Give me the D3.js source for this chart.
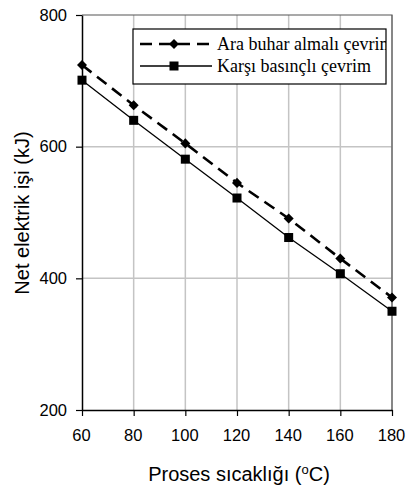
<!DOCTYPE html>
<html><head><meta charset="utf-8">
<script src="https://cdn.jsdelivr.net/npm/d3@7"></script>
<style>body{margin:0;background:#fff}</style>
</head><body>
<svg id="c" width="408" height="493"></svg>
<script>
const temps = [60, 80, 100, 120, 140, 160, 180];
const araBuhar = [724, 663, 605, 545, 491, 430, 371];
const karsiBasinc = [701, 640, 581, 522, 462, 407, 350];
const xTicks = [60, 80, 100, 120, 140, 160, 180];
const yTicks = [200, 400, 600, 800];
const seriesNames = ["Ara buhar almalı çevrim", "Karşı basınçlı çevrim"];

const svg = d3.select("#c");
const L = 82, R = 392, T = 15, B = 410;
const x = d3.scaleLinear().domain([60, 180]).range([L, R]);
const y = d3.scaleLinear().domain([200, 800]).range([B, T]);

// grid
svg.append("g").selectAll("line").data(xTicks.slice(1)).join("line")
  .attr("x1", d => x(d)).attr("x2", d => x(d)).attr("y1", T).attr("y2", B)
  .attr("stroke", "#c4c4c4").attr("stroke-width", 1.5);
svg.append("g").selectAll("line").data([400, 600]).join("line")
  .attr("x1", L).attr("x2", R).attr("y1", d => y(d)).attr("y2", d => y(d))
  .attr("stroke", "#c4c4c4").attr("stroke-width", 1.5);
// top/right frame
svg.append("path").attr("d", `M${L},${T}H${R}V${B}`).attr("fill", "none")
  .attr("stroke", "#555").attr("stroke-width", 1.2);

// axes
const font = "'Liberation Sans', Arial, sans-serif";
const xAxis = svg.append("g").attr("transform", `translate(0,${B})`)
  .call(d3.axisBottom(x).tickValues(xTicks).tickSize(6).tickSizeOuter(0).tickPadding(13));
const yAxis = svg.append("g").attr("transform", `translate(${L},0)`)
  .call(d3.axisLeft(y).tickValues(yTicks).tickSize(6).tickSizeOuter(0).tickPadding(9));
[xAxis, yAxis].forEach(a => {
  a.select(".domain").attr("stroke", "#000").attr("stroke-width", 1.5);
  a.selectAll(".tick line").attr("stroke", "#000").attr("stroke-width", 1.2);
  a.selectAll("text").attr("font-family", font).attr("font-size", 16.5).attr("fill", "#000");
});
xAxis.selectAll("text").attr("dx", -1);

// lines
const line = d3.line().x((d, i) => x(temps[i])).y(d => y(d));
svg.append("path").datum(araBuhar).attr("d", line).attr("fill", "none")
  .attr("stroke", "#000").attr("stroke-width", 2.6).attr("stroke-dasharray", "12,7");
svg.append("path").datum(karsiBasinc).attr("d", line).attr("fill", "none")
  .attr("stroke", "#000").attr("stroke-width", 1.3);

const diamondSym = d3.symbol().type(d3.symbolDiamond2).size(64);
svg.append("g").selectAll("path").data(araBuhar).join("path")
  .attr("transform", (d, i) => `translate(${x(temps[i])},${y(d)})`)
  .attr("d", diamondSym).attr("fill", "#000");
svg.append("g").selectAll("rect").data(karsiBasinc).join("rect")
  .attr("x", (d, i) => x(temps[i]) - 4.5).attr("y", d => y(d) - 4.5)
  .attr("width", 9).attr("height", 9).attr("fill", "#000");

// legend
const lg = svg.append("g");
const bx = 133, by = 29, bw = 253, bh = 55;
svg.append("clipPath").attr("id", "lc").append("rect").attr("x", bx).attr("y", by).attr("width", bw).attr("height", bh);
lg.append("rect").attr("x", bx).attr("y", by).attr("width", bw).attr("height", bh)
  .attr("fill", "#fff").attr("stroke", "#000").attr("stroke-width", 1.2);
const lt = lg.append("g").attr("clip-path", "url(#lc)");
const rows = [by + 15, by + 37];
lt.append("line").attr("x1", 140).attr("x2", 212).attr("y1", rows[0]).attr("y2", rows[0])
  .attr("stroke", "#000").attr("stroke-width", 2.6).attr("stroke-dasharray", "12,7");
lt.append("path").attr("transform", `translate(174,${rows[0]})`)
  .attr("d", diamondSym).attr("fill", "#000");
lt.append("line").attr("x1", 140).attr("x2", 212).attr("y1", rows[1]).attr("y2", rows[1])
  .attr("stroke", "#000").attr("stroke-width", 1.3);
lt.append("rect").attr("x", 169.5).attr("y", rows[1] - 4.5).attr("width", 9).attr("height", 9).attr("fill", "#000");
seriesNames.forEach((n, i) => {
  lt.append("text").attr("x", 217).attr("y", rows[i] + 6).text(n)
    .attr("font-family", "'Liberation Serif', 'Times New Roman', serif").attr("font-size", 18).attr("fill", "#000");
});

// titles
const xt = svg.append("text").attr("x", 239).attr("y", 481).attr("text-anchor", "middle")
  .attr("font-family", font).attr("font-size", 20).attr("fill", "#000");
xt.append("tspan").text("Proses sıcaklığı (");
xt.append("tspan").text("o").attr("font-size", 13).attr("dy", -7);
xt.append("tspan").text("C)").attr("dy", 7);
svg.append("text").attr("transform", `translate(29,213) rotate(-90)`).attr("text-anchor", "middle")
  .attr("font-family", font).attr("font-size", 20).attr("fill", "#000").text("Net elektrik işi (kJ)");
</script>
</body></html>
